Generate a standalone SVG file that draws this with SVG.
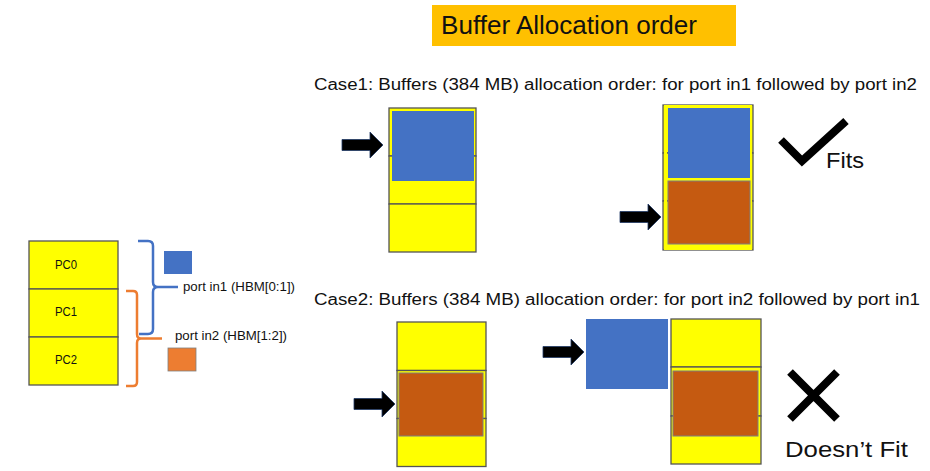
<svg xmlns="http://www.w3.org/2000/svg" width="930" height="471" viewBox="0 0 930 471">
<defs>
<style>
text{font-family:"Liberation Sans",Arial,sans-serif;fill:#111}
.cell{fill:#FFFF00;stroke:#555;stroke-width:1.3}
.blue{fill:#4472C4}
.orange{fill:#C55A11;stroke:#7f7f7f;stroke-width:1}
.arrow{fill:#000;stroke:#1f3864;stroke-width:0.8}
.mark{stroke:#000;stroke-width:8;fill:none}
.lbl{font-size:12px}
.big{font-size:22px}
.case{font-size:16px}
</style>
<path id="arr" d="M0,-5.5 H28 V-13 L41,0 L28,13 V5.5 H0 Z"/>
</defs>
<rect x="0" y="0" width="930" height="471" fill="#fff"/>

<g id="title">
<rect x="432" y="5" width="304" height="41" fill="#FFC000"/>
<text x="441" y="34" font-size="25" textLength="256" lengthAdjust="spacingAndGlyphs">Buffer Allocation order</text>
</g>

<g id="hbm">
<rect class="cell" x="29" y="241" width="89" height="48"/>
<rect class="cell" x="29" y="289" width="89" height="48"/>
<rect class="cell" x="29" y="337" width="89" height="48"/>
<text class="lbl" x="55" y="269" textLength="22" lengthAdjust="spacingAndGlyphs">PC0</text>
<text class="lbl" x="55" y="316" textLength="22" lengthAdjust="spacingAndGlyphs">PC1</text>
<text class="lbl" x="55" y="364" textLength="22" lengthAdjust="spacingAndGlyphs">PC2</text>
</g>

<g id="port-in1">
<path d="M138,241 H148 Q153,241 153,246 V282 Q153,287 158,287 H178 M158,287 Q153,287 153,292 V329 Q153,334 148,334 H139" fill="none" stroke="#4472C4" stroke-width="2.5"/>
<rect x="164" y="251" width="28" height="23" fill="#4472C4"/>
<text class="lbl" x="183" y="291" textLength="112" lengthAdjust="spacingAndGlyphs">port in1 (HBM[0:1])</text>
</g>

<g id="port-in2">
<path d="M126,291 H133 Q137,291 137,295 V334 Q137,338.5 141,338.5 H162 M141,338.5 Q137,338.5 137,343 V382 Q137,386 133,386 H126" fill="none" stroke="#ED7D31" stroke-width="2.5"/>
<rect x="168" y="348" width="28" height="23" fill="#ED7D31" stroke="#7f7f7f" stroke-width="0.8"/>
<text class="lbl" x="175" y="340" textLength="112" lengthAdjust="spacingAndGlyphs">port in2 (HBM[1:2])</text>
</g>

<g id="case1">
<text class="case" x="314" y="90" textLength="603" lengthAdjust="spacingAndGlyphs">Case1: Buffers (384 MB) allocation order: for port in1 followed by port in2</text>
</g>

<g id="case1-left">
<rect class="cell" x="389" y="108" width="87" height="48"/>
<rect class="cell" x="389" y="156" width="87" height="48"/>
<rect class="cell" x="389" y="204" width="87" height="48"/>
<rect class="blue" x="392" y="111" width="82" height="70"/>
<use href="#arr" class="arrow" x="342" y="145"/>
</g>

<g id="case1-right">
<rect class="cell" x="663" y="105" width="90" height="48"/>
<rect class="cell" x="663" y="153" width="90" height="48"/>
<rect class="cell" x="663" y="201" width="90" height="49"/>
<rect x="665.5" y="106.5" width="85" height="142" fill="none" stroke="#FFFF00" stroke-width="3"/>
<rect class="blue" x="668" y="108" width="82" height="70"/>
<rect class="orange" x="668" y="181" width="82" height="63"/>
<use href="#arr" class="arrow" x="620" y="217"/>
<path class="mark" d="M781,140 L802,161 L846,121"/>
<text class="big" x="826" y="168" textLength="38" lengthAdjust="spacingAndGlyphs">Fits</text>
</g>

<g id="case2">
<text class="case" x="314" y="305" textLength="606" lengthAdjust="spacingAndGlyphs">Case2: Buffers (384 MB) allocation order: for port in2 followed by port in1</text>
</g>

<g id="case2-left">
<rect class="cell" x="397" y="322" width="89" height="48.5"/>
<rect class="cell" x="397" y="370.5" width="89" height="48"/>
<rect class="cell" x="397" y="418.5" width="89" height="48"/>
<rect class="orange" x="399" y="373" width="84" height="63"/>
<use href="#arr" class="arrow" x="354" y="404"/>
</g>

<g id="case2-right">
<rect class="blue" x="586" y="319" width="82" height="70"/>
<rect class="cell" x="671" y="319" width="90" height="48"/>
<rect class="cell" x="671" y="367" width="90" height="49"/>
<rect class="cell" x="671" y="416" width="90" height="48"/>
<rect class="orange" x="673" y="371" width="85" height="65"/>
<use href="#arr" class="arrow" x="543" y="352"/>
<path class="mark" d="M790,372 L837,419 M837,372 L790,419"/>
<text class="big" x="785" y="457" textLength="123" lengthAdjust="spacingAndGlyphs">Doesn’t Fit</text>
</g>
</svg>
